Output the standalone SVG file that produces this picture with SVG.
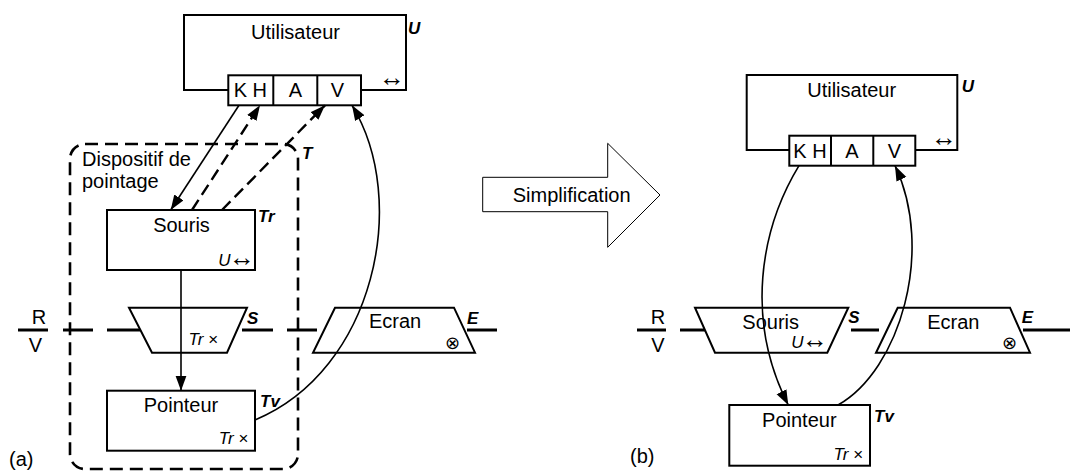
<svg xmlns="http://www.w3.org/2000/svg" width="1070" height="473" viewBox="0 0 1070 473">
<style>
.box{fill:#fff;stroke:#000;stroke-width:2}
.t{font-family:"Liberation Sans",Arial,sans-serif;font-size:20px;fill:#000}
.m{text-anchor:middle}
.lab{font-family:"Liberation Sans",Arial,sans-serif;font-size:17px;font-weight:bold;font-style:italic;fill:#000}
.it{font-family:"Liberation Sans",Arial,sans-serif;font-size:17px;font-style:italic;fill:#000;text-anchor:end}
.sym{font-family:"Liberation Sans",sans-serif;font-size:26px;fill:#000;text-anchor:end}
.ar{font-style:normal;font-size:26px}
.ot{font-family:"DejaVu Sans",sans-serif;font-weight:200;font-size:18px;fill:#000;text-anchor:middle}
.rv{fill:none;stroke:#000;stroke-width:3}
.c{fill:none;stroke:#000;stroke-width:1.6}
.d{stroke-width:2.4;stroke-dasharray:12 6}
</style>
<defs>
<marker id="ah" markerUnits="userSpaceOnUse" markerWidth="16" markerHeight="12" refX="15" refY="5.5" orient="auto">
<path d="M0,0 L15,5.5 L0,11 z" fill="#000"/>
</marker>
</defs>

<g id="rv-lines">
<line class="rv" x1="18" y1="330" x2="48" y2="330"/>
<line class="rv" x1="63" y1="330" x2="93" y2="330"/>
<line class="rv" x1="107" y1="330" x2="140" y2="330"/>
<line class="rv" x1="242" y1="330" x2="273" y2="330"/>
<line class="rv" x1="287" y1="330" x2="317" y2="330"/>
<line class="rv" x1="467" y1="330" x2="497" y2="330"/>
<line class="rv" x1="637" y1="330" x2="666" y2="330"/>
<line class="rv" x1="680" y1="330" x2="705" y2="330"/>
<line class="rv" x1="851" y1="330" x2="879" y2="330"/>
<line class="rv" x1="1023" y1="330" x2="1070" y2="330"/>
<text class="t m" x="39" y="324" font-size="21">R</text>
<text class="t m" x="35.5" y="352" font-size="21">V</text>
<text class="t m" x="658" y="324" font-size="21">R</text>
<text class="t m" x="658" y="352" font-size="21">V</text>
</g>

<g id="dispositif">
<rect x="70" y="144" width="228" height="325" rx="15" fill="none" stroke="#000" stroke-width="2.6" stroke-dasharray="13 7"/>
<text class="t" x="82" y="166">Dispositif de</text>
<text class="t" x="82" y="188">pointage</text>
<text class="lab" x="302" y="159">T</text>
</g>

<g id="utilisateur-a">
<rect class="box" x="184" y="15" width="222" height="75"/>
<text class="t m" x="295.5" y="39">Utilisateur</text>
<text class="lab" x="408" y="34">U</text>
<text class="sym" x="405" y="86">↔</text>
<rect class="box" x="228.3" y="75.3" width="132.7" height="30"/>
<line class="box" x1="273.3" y1="75.3" x2="273.3" y2="105.3"/>
<line class="box" x1="317.3" y1="75.3" x2="317.3" y2="105.3"/>
<text class="t m" x="250.3" y="97">K H</text>
<text class="t m" x="295.3" y="97">A</text>
<text class="t m" x="337.5" y="97">V</text>
</g>

<g id="souris-a">
<rect class="box" x="107" y="210" width="148" height="60"/>
<text class="t m" x="181.5" y="232">Souris</text>
<text class="lab" x="258" y="222">Tr</text>
<text class="it" x="255" y="266">U<tspan class="ar" dx="-1.5">↔</tspan></text>
</g>

<g id="s-a">
<polygon class="box" points="129,307.7 247,307.7 227,352.7 152,352.7"/>
<text class="it" x="218" y="345">Tr ×</text>
<text class="lab" x="247" y="324">S</text>
</g>

<g id="ecran-a">
<polygon class="box" points="335,307.7 454,307.7 475,352.7 313,352.7"/>
<text class="t m" x="395" y="328">Ecran</text>
<text class="ot" x="452.5" y="348.5">⊗</text>
<text class="lab" x="467" y="324">E</text>
</g>

<g id="pointeur-a">
<rect class="box" x="107" y="390.7" width="148" height="60"/>
<text class="t m" x="181" y="412">Pointeur</text>
<text class="lab" x="260" y="407">Tv</text>
<text class="it" x="248.3" y="444">Tr ×</text>
</g>

<text class="t" x="9" y="466">(a)</text>

<g id="simplification">
<polygon points="482.7,177.3 607.7,177.3 607.7,143.3 660,195 607.7,247.3 607.7,211.7 482.7,211.7" fill="#fff" stroke="#000" stroke-width="1"/>
<text class="t m" x="571.7" y="202">Simplification</text>
</g>

<g id="utilisateur-b">
<rect class="box" x="746.7" y="75" width="210.6" height="75"/>
<text class="t m" x="851.7" y="97">Utilisateur</text>
<text class="lab" x="961.7" y="92">U</text>
<text class="sym" x="957" y="145.5">↔</text>
<rect class="box" x="789.3" y="135.7" width="126" height="30"/>
<line class="box" x1="831" y1="135.7" x2="831" y2="165.7"/>
<line class="box" x1="873.3" y1="135.7" x2="873.3" y2="165.7"/>
<text class="t m" x="810" y="157.5">K H</text>
<text class="t m" x="852" y="157.5">A</text>
<text class="t m" x="894.3" y="157.5">V</text>
</g>

<g id="souris-b">
<polygon class="box" points="695,307.7 848.3,307.7 827.3,352.7 715,352.7"/>
<text class="t m" x="770.7" y="329">Souris</text>
<text class="it" x="828" y="347.5">U<tspan class="ar" dx="-1.5">↔</tspan></text>
<text class="lab" x="848.3" y="323">S</text>
</g>

<g id="ecran-b">
<polygon class="box" points="897.7,307.7 1010,307.7 1030,352.7 876,352.7"/>
<text class="t m" x="953.3" y="328.5">Ecran</text>
<text class="ot" x="1009.7" y="348.5">⊗</text>
<text class="lab" x="1021.7" y="323">E</text>
</g>

<g id="pointeur-b">
<rect class="box" x="729.3" y="405" width="140.7" height="60.7"/>
<text class="t m" x="799.3" y="427">Pointeur</text>
<text class="lab" x="874" y="421.7">Tv</text>
<text class="it" x="863" y="460">Tr ×</text>
</g>

<text class="t" x="630" y="463">(b)</text>

<g id="connectors">
<line class="c" x1="239" y1="105.3" x2="170.7" y2="210" marker-end="url(#ah)"/>
<line class="c d" x1="192" y1="210" x2="260" y2="105.3" marker-end="url(#ah)"/>
<line class="c d" x1="222" y1="210" x2="325" y2="105.3" marker-end="url(#ah)"/>
<line class="c" x1="181" y1="270" x2="181" y2="390.7" marker-end="url(#ah)"/>
<path class="c" d="M255,420 C375,370 410,200 352,105.3" marker-end="url(#ah)"/>
<path class="c" d="M799,165.7 C760,230 745,320 788.3,405" marker-end="url(#ah)"/>
<path class="c" d="M838,405 C900,370 935,250 895,165.7" marker-end="url(#ah)"/>
</g>
</svg>
